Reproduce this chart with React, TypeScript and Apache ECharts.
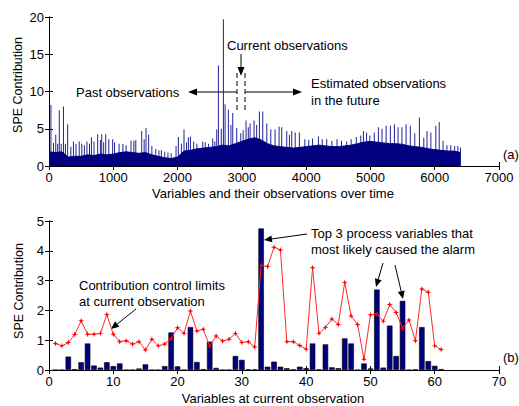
import React, { useEffect, useRef } from "react";
import * as echarts from "echarts";

// ---- Top chart (a): dense contribution profile over time ----
// dark fill level sampled every 100 observations (x, value)
const topBaseX = [0,100,200,300,400,500,600,700,800,900,1000,1100,1200,1300,1400,1500,1600,1700,1800,1900,2000,2100,2200,2300,2400,2500,2600,2700,2800,2900,3000,3100,3200,3300,3400,3500,3600,3700,3800,3900,4000,4100,4200,4300,4400,4500,4600,4700,4800,4900,5000,5100,5200,5300,5400,5500,5600,5700,5800,5900,6000,6100,6200,6300,6400];
const topBaseY = [1.9,1.8,1.9,1.2,1.3,1.3,1.5,1.4,1.6,1.5,1.6,1.8,1.9,1.8,1.7,1.8,1.5,1.3,1.1,1.0,1.2,2.0,2.1,2.3,2.4,2.5,2.6,2.8,2.7,3.0,3.3,3.6,3.8,3.5,3.0,2.7,2.6,2.5,2.4,2.5,2.6,2.7,2.8,2.7,2.6,2.6,2.7,2.8,3.0,3.2,3.3,3.2,3.1,3.0,3.0,2.9,2.7,2.6,2.5,2.3,2.2,2.1,2.0,2.0,1.8];
// spikes above the fill
const spikeX = [30,70,105,135,160,190,225,255,290,340,380,420,470,510,550,590,630,660,700,757,800,820,850,882,930,990,1020,1090,1150,1200,1276,1320,1350,1442,1480,1509,1550,1600,1660,1710,1748,1800,1850,1900,1976,2012,2060,2100,2140,2168,2200,2250,2300,2391,2430,2480,2547,2580,2609,2635,2680,2713,2739,2790,2830,2858,2920,2983,3020,3065,3100,3128,3190,3230,3273,3325,3388,3450,3517,3579,3620,3698,3740,3776,3830,3895,3980,4040,4100,4191,4250,4320,4400,4480,4550,4630,4700,4780,4850,4891,4940,4990,5060,5124,5180,5244,5310,5373,5430,5490,5555,5620,5690,5762,5830,5880,5940,6017,6070,6130,6190,6250,6310,6360,6400];
const spikeY = [8.2,3.1,4.2,3.0,7.5,3.0,8.0,3.0,5.6,2.6,3.3,3.0,3.3,3.0,2.8,3.3,3.0,3.85,3.3,4.25,3.5,4.25,3.2,4.25,3.6,3.6,3.2,3.0,3.0,2.8,3.4,3.4,3.5,4.7,3.6,5.1,4.2,2.7,2.3,2.1,2.1,1.9,1.8,1.7,2.7,3.9,3.0,4.9,3.2,3.85,3.95,3.3,3.0,3.3,3.2,3.0,3.7,3.3,4.9,13.5,5.0,19.7,8.3,7.6,5.5,7.1,5.1,4.4,4.8,6.1,5.2,5.7,6.1,5.5,7.3,7.3,5.7,4.9,4.9,5.3,5.2,4.7,4.2,4.7,4.5,4.5,3.6,3.5,3.7,4.0,3.6,3.6,3.4,3.6,3.4,3.3,3.6,3.9,4.1,4.7,4.5,4.1,4.5,5.2,5.0,5.4,5.4,5.6,5.2,5.2,5.6,5.4,4.4,6.5,3.8,4.7,4.5,5.4,5.9,3.4,2.8,2.8,2.7,2.7,2.5];
const topXTicks = { min: 0, max: 7000, interval: 1000 };
const topYTicks = { min: 0, max: 20, interval: 5 };

// ---- Bottom chart (b): current observation ----
const varIndex = Array.from({ length: 61 }, (_, i) => i + 1);
const contribution = [0,0,0.45,0.03,0.26,0.89,0.15,0.08,0.26,0.13,0.22,0,0,0.05,0.19,0,0,0.13,1.26,0.12,0,1.44,0.27,0.03,0.95,0.07,0,0,0.47,0.34,0.02,0.02,4.75,0.11,0.28,0.11,0.06,0.02,0.11,0.06,0.89,0.02,0.86,0.09,0.06,1.06,0.89,0,0.22,0.05,2.70,0.08,1.49,0.47,2.32,0,0.02,1.44,0.30,0.14,0.03];
const controlLimit = [0.89,0.81,0.92,1.19,1.65,1.2,1.2,1.23,1.86,1.2,0.95,0.98,0.87,0.95,0.67,1.03,0.81,0.87,1.06,1.42,1.23,1.98,1.31,1.37,0.80,1.14,0.97,1.03,1.23,0.92,0.95,0.77,3.52,3.47,4.12,4.03,0.95,0.95,0.82,0.70,3.43,1.23,1.43,1.71,1.53,2.94,1.81,1.53,0.36,1.85,1.88,1.64,2.20,1.93,1.40,1.68,0.98,2.72,2.61,0.81,0.69];
const botXTicks = { min: 0, max: 70, interval: 10 };
const botYTicks = { min: 0, max: 5, interval: 1 };

const FONT = "'Liberation Sans', Arial, sans-serif";
const NAVY = "#000080";

function arrow(x1: number, y1: number, x2: number, y2: number, head = 8, half = 3.5): any[] {
  const dx = x2 - x1, dy = y2 - y1;
  const L = Math.sqrt(dx * dx + dy * dy);
  const ux = dx / L, uy = dy / L;
  const bx = x2 - ux * head, by = y2 - uy * head;
  const px = -uy, py = ux;
  return [
    { type: "line", shape: { x1, y1, x2: bx, y2: by }, style: { stroke: "#000", lineWidth: 1 } },
    { type: "polygon", shape: { points: [[x2, y2], [bx + px * half, by + py * half], [bx - px * half, by - py * half]] }, style: { fill: "#000" } },
  ];
}

function txt(x: number, y: number, s: string, extra: any = {}): any {
  return { type: "text", x, y, style: { text: s, fill: "#000", font: `13px ${FONT}`, verticalAlign: "middle", ...extra } };
}

function ylabel(x: number, y: number): any {
  return { type: "text", x, y, rotation: Math.PI / 2, style: { text: "SPE Contribution", fill: "#000", font: `12.5px ${FONT}`, align: "center", verticalAlign: "middle" } };
}

function axesFor(gi: number, xt: any, yt: any) {
  const common = {
    gridIndex: gi,
    axisLine: { show: true, lineStyle: { color: "#000", width: 1 } },
    axisTick: { show: true, inside: true, length: 4, lineStyle: { color: "#000" } },
    splitLine: { show: false },
  };
  const label = { color: "#000", fontSize: 13, fontFamily: FONT, formatter: (v: number) => String(v) };
  return {
    x: [
      { ...common, type: "value", position: "bottom", ...xt, axisLabel: { ...label, margin: 5 } },
      { ...common, type: "value", position: "top", ...xt, axisLabel: { show: false } },
    ],
    y: [
      { ...common, type: "value", position: "left", ...yt, axisLabel: { ...label, margin: 5 } },
      { ...common, type: "value", position: "right", ...yt, axisLabel: { show: false } },
    ],
  };
}

export default function App() {
  const ref = useRef<HTMLDivElement>(null);
  useEffect(() => {
    if (!ref.current) return;
    const chart = echarts.init(ref.current, undefined, { renderer: "svg" });
    const a = axesFor(0, topXTicks, topYTicks);
    const b = axesFor(1, botXTicks, botYTicks);
    const star = "path://M5,0 L6.2,3.8 L10,5 L6.2,6.2 L5,10 L3.8,6.2 L0,5 L3.8,3.8 Z";
    const graphic: any[] = [
      // top chart annotations
      txt(227, 45, "Current observations"),
      ...arrow(241, 54, 241, 76, 9, 3.5),
      { type: "line", shape: { x1: 237, y1: 73, x2: 237, y2: 112 }, style: { stroke: "#000", lineWidth: 1, lineDash: [5, 3] } },
      { type: "line", shape: { x1: 245, y1: 73, x2: 245, y2: 112 }, style: { stroke: "#000", lineWidth: 1, lineDash: [5, 3] } },
      ...arrow(237, 92, 188, 92, 9, 3.5),
      ...arrow(245, 92, 302, 92, 9, 3.5),
      txt(76, 92, "Past observations"),
      txt(311, 83, "Estimated observations"),
      txt(311, 100, "in the future"),
      txt(503, 154, "(a)"),
      ylabel(18, 85),
      txt(273, 193, "Variables and their observations over time", { align: "center" }),
      // bottom chart annotations
      txt(79, 285, "Contribution control limits"),
      txt(79, 301, "at current observation"),
      ...arrow(136, 309, 111, 329, 8, 3.5),
      txt(311, 233, "Top 3 process variables that"),
      txt(311, 249, "most likely caused the alarm"),
      ...arrow(307, 234, 264, 240, 8, 3.5),
      ...arrow(383, 263, 376, 287, 8, 3.5),
      ...arrow(395, 265, 403, 299, 8, 3.5),
      txt(503, 357, "(b)"),
      ylabel(19, 291),
      txt(273, 398, "Variables at current observation", { align: "center" }),
    ];
    chart.setOption({
      animation: false,
      backgroundColor: "#fff",
      textStyle: { fontFamily: FONT },
      grid: [
        { left: 49, top: 17, width: 450, height: 149 },
        { left: 49, top: 221, width: 450, height: 149 },
      ],
      xAxis: [...a.x, ...b.x],
      yAxis: [...a.y, ...b.y],
      series: [
        {
          type: "line", xAxisIndex: 0, yAxisIndex: 0, showSymbol: false, symbol: "none",
          data: topBaseX.map((x, i) => [x, topBaseY[i]]),
          lineStyle: { color: NAVY, width: 1 }, areaStyle: { color: NAVY, opacity: 1 },
        },
        {
          type: "bar", xAxisIndex: 0, yAxisIndex: 0, barWidth: 1,
          data: spikeX.map((x, i) => [x, spikeY[i]]),
          itemStyle: { color: "#22229a" },
        },
        {
          type: "bar", xAxisIndex: 2, yAxisIndex: 2, barWidth: 5.5,
          data: varIndex.map((x, i) => [x, contribution[i]]),
          itemStyle: { color: NAVY, borderColor: "#000", borderWidth: 0.6 },
        },
        {
          type: "line", xAxisIndex: 2, yAxisIndex: 2,
          data: varIndex.map((x, i) => [x, controlLimit[i]]),
          symbol: star, symbolSize: 6, showSymbol: true,
          lineStyle: { color: "#ff2a2a", width: 1 }, itemStyle: { color: "#ff0000" },
        },
      ],
      graphic,
    });
    return () => chart.dispose();
  }, []);
  return <div ref={ref} style={{ position: "fixed", left: 0, top: 0, width: 519, height: 406, background: "#fff" }} />;
}
